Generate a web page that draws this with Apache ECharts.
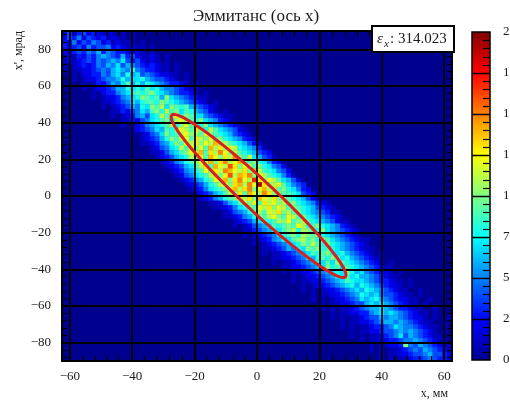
<!DOCTYPE html>
<html>
<head>
<meta charset="utf-8">
<script src="https://cdn.jsdelivr.net/npm/echarts@6/dist/echarts.min.js"></script>
<style>
  html, body { margin: 0; padding: 0; background: #fff; }
  #chart { width: 510px; height: 402px; }
</style>
</head>
<body>
<div id="chart"></div>
<script>
// Phase-space histogram: x (mm) vs x' (mrad)
const X_MIN = -62.5, X_MAX = 62.5;
const Y_MIN = -90, Y_MAX = 90;
const BIN_W = 1.5625;   // mm per x bin
const BIN_H = 2.5;      // mrad per x' bin
const N_XBINS = 80;

// First x-bin index of each x' row (rows run from x' = +90 down to -90)
const rowStart = [
  -9, -8, -7, -6, -5, -3, -2, -1, 0, 1, 2, 3, 4, 5, 6, 7, 8, 9, 10, 11, 12, 13, 14, 15,
  16, 17, 18, 19, 20, 21, 22, 23, 24, 25, 26, 27, 28, 30, 31, 32, 33, 34, 35, 36, 37, 38,
  39, 40, 41, 42, 43, 44, 45, 46, 47, 48, 49, 50, 51, 52, 53, 54, 55, 56, 57, 58, 59, 60,
  62, 63, 64, 65
];

// Bin contents along each row, one base-36 digit per bin (0..20)
const rowCounts = [
  "1011021232413423212101010",
  "0102121324352432312110100",
  "1011122325243542312111010",
  "0101213234253445232121101",
  "1012122343546354332121010",
  "0101213243565436342112101",
  "1012123435456574342121010",
  "0101232354657465432321101",
  "1011223454676585433211010",
  "0102233546758674543221101",
  "1012234556867786544321010",
  "0101324657968687654332101",
  "1012234668787978655432110",
  "0102335678989a87654332101",
  "1012235678a9896a765432110",
  "0112345768998a98765432101",
  "1012346587a9b7a9896543210",
  "0113245769a8b9a7986542101",
  "1012356478b9ac8a977543211",
  "0113245789a7bca98a7653210",
  "1012356789b8ac9b8a7654321",
  "0123457698acb9da8b9765421",
  "1012457a89bcab9ca98764321",
  "0123468a9bc9dbac9a8765321",
  "1123568a9cbdacbeab9876421",
  "0124578b9dac9ebdacb876531",
  "1124679acbe9dbfcab9876432",
  "1234678bad9ecadbfa9b76431",
  "1235689acbeadfbcea9a87532",
  "1234679bd9ecbgdacb9a87542",
  "1235689cadbfecbdaeb987542",
  "1245789bdacgbedfacb987531",
  "1235689cbeadfcbhdacb97642",
  "1234689bcadebfcjdabc97543",
  "1235789acebdfacebd9a87532",
  "1234679bad9ecbfdab9987432",
  "1235689acbdaecbdab9876421",
  "1124679bac9dbcab9a8765321",
  "1123578a9cbdacb9a98764321",
  "0124568ab9cbdab9a87654311",
  "1123568a9bca9cb9a87654321",
  "0123467989bac9ab987654211",
  "10124567989a9cb89a8765321",
  "0113456879ab8ba98a7654321",
  "1012345789a8ba9b876543210",
  "0112356879ab9a8a976543211",
  "1012345678a9b98a876543210",
  "0112346587a9a898765432110",
  "1011234567989a87865432101",
  "0112234576898a97865432110",
  "1011234568797a98765432101",
  "0112234567a89798765432110",
  "1011223456787a86754322101",
  "0101223456879786654321100",
  "1011223456798776543321101",
  "0101223456786876543221010",
  "1010122345676876543211001",
  "0101122345687675443211010",
  "1010122345767865432211001",
  "0101122344676765432110100",
  "1010112345667654332110010",
  "0101122335676765432110100",
  "1010112344656654322101001",
  "0101122345665654321100100",
  "1010112334576554321101000",
  "0101122344565654321010100",
  "1010112345746543211001000",
  "0101122334556543211010000",
  "01011223a5465432110100100",
  "1010112345465432110100000",
  "0101122344564432110100100",
  "1010112334543321101001000"
];

// Axis ticks
const xMajorTicks = [-60, -40, -20, 0, 20, 40, 60];
const xMinorTicks = [-60, -56, -52, -48, -44, -40, -36, -32, -28, -24, -20, -16, -12, -8, -4, 0,
                     4, 8, 12, 16, 20, 24, 28, 32, 36, 40, 44, 48, 52, 56, 60];
const yMajorTicks = [-80, -60, -40, -20, 0, 20, 40, 60, 80];
const yMinorTicks = [-88, -84, -80, -76, -72, -68, -64, -60, -56, -52, -48, -44, -40, -36, -32, -28,
                     -24, -20, -16, -12, -8, -4, 0, 4, 8, 12, 16, 20, 24, 28, 32, 36, 40, 44, 48,
                     52, 56, 60, 64, 68, 72, 76, 80, 84, 88];
const zMax = 20;
const zMajorTicks = [0, 2.5, 5, 7.5, 10, 12.5, 15, 17.5, 20];
const zMinorStep = 0.5;

// Colour palette, evenly spaced from 0 to zMax
const palette = ['#00008f', '#0000ff', '#0080ff', '#00ffff', '#80ff80',
                 '#ffff00', '#ff8000', '#ff0000', '#800000'];

// Emittance ellipse (Twiss parameters)
const emittance = 314.023;
const twissBeta = 2.5;
const twissAlpha = 3.84;
const beamCentre = [0.5, 0];

// Build histogram cells: [xLow, yLow, count]
const cells = [];
rowCounts.forEach((row, r) => {
  for (let k = 0; k < row.length; k++) {
    const ix = rowStart[r] + k;
    const n = parseInt(row[k], 36);
    if (ix < 0 || ix >= N_XBINS || !n) continue;
    cells.push([X_MIN + BIN_W * ix, Y_MAX - BIN_H * (r + 1), n]);
  }
});

const SERIF = '"Liberation Serif", "Times New Roman", serif';
const TXT = '#1a1a1a';
const minus = v => String(v).replace('-', '\u2212');

function frameAxis(dim, position, ticks, len, opts) {
  const isMajor = len > 6;
  return Object.assign({
    gridIndex: 0,
    type: 'value',
    min: dim === 'x' ? X_MIN : Y_MIN,
    max: dim === 'x' ? X_MAX : Y_MAX,
    position: position,
    z: 5,
    axisLine: { show: isMajor, onZero: false, lineStyle: { color: '#000', width: 2 } },
    axisTick: { show: true, inside: true, length: len, customValues: ticks,
                lineStyle: { color: '#000', width: isMajor ? 1.5 : 1.2 } },
    axisLabel: { show: false },
    splitLine: { show: false }
  }, opts || {});
}

const chart = echarts.init(document.getElementById('chart'), null, { renderer: 'canvas' });

chart.setOption({
  animation: false,
  backgroundColor: '#ffffff',
  grid: [
    { left: 62, right: 58, top: 31, bottom: 41, show: true, backgroundColor: palette[0],
      borderWidth: 0, outerBoundsMode: 'none', containLabel: false },
    { left: 472, width: 18, top: 32, height: 328, outerBoundsMode: 'none', containLabel: false }
  ],
  xAxis: [
    frameAxis('x', 'bottom', xMajorTicks, 10, {
      splitNumber: 6,
      axisLabel: { show: true, customValues: xMajorTicks, margin: 9, formatter: minus,
                   fontFamily: SERIF, fontSize: 13, color: TXT },
      splitLine: { show: true, lineStyle: { color: '#000', width: 1.8 } }
    }),
    frameAxis('x', 'bottom', xMinorTicks, 5),
    frameAxis('x', 'top', xMajorTicks, 10),
    frameAxis('x', 'top', xMinorTicks, 5),
    { gridIndex: 1, type: 'value', min: 0, max: 1, show: false }
  ],
  yAxis: [
    frameAxis('y', 'left', yMajorTicks, 10, {
      splitNumber: 9,
      axisLabel: { show: true, customValues: yMajorTicks, margin: 11, formatter: minus,
                   fontFamily: SERIF, fontSize: 13, color: TXT },
      splitLine: { show: true, lineStyle: { color: '#000', width: 1.8 } }
    }),
    frameAxis('y', 'left', yMinorTicks, 5),
    frameAxis('y', 'right', yMajorTicks, 10),
    frameAxis('y', 'right', yMinorTicks, 5),
    {
      gridIndex: 1, type: 'value', min: 0, max: zMax, interval: 2.5, position: 'right', z: 5,
      axisLine: { show: false },
      axisTick: { show: false },
      minorTick: { show: false },
      axisLabel: { show: true, margin: 13, fontFamily: SERIF, fontSize: 13, color: TXT },
      splitLine: { show: false }
    }
  ],
  visualMap: {
    type: 'continuous', show: false, seriesIndex: 0, dimension: 2,
    min: 0, max: zMax, inRange: { color: palette }
  },
  series: [
    {
      name: 'counts',
      type: 'custom',
      coordinateSystem: 'cartesian2d',
      xAxisIndex: 0, yAxisIndex: 0,
      clip: true,
      silent: true,
      z: 2,
      encode: { x: 0, y: 1 },
      data: cells,
      renderItem: function (params, api) {
        const x = api.value(0), y = api.value(1);
        const a = api.coord([x, y + BIN_H]);
        const b = api.coord([x + BIN_W, y]);
        return {
          type: 'rect',
          shape: { x: a[0], y: a[1], width: b[0] - a[0] + 0.4, height: b[1] - a[1] + 0.4 },
          style: { fill: api.visual('color') }
        };
      }
    },
    {
      name: 'ellipse',
      type: 'custom',
      coordinateSystem: 'cartesian2d',
      xAxisIndex: 0, yAxisIndex: 0,
      silent: true,
      z: 10,
      encode: { x: 3, y: 4 },
      data: [[emittance, twissBeta, twissAlpha, beamCentre[0], beamCentre[1]]],
      renderItem: function (params, api) {
        const eps = api.value(0), beta = api.value(1), alpha = api.value(2);
        const cx = api.value(3), cy = api.value(4);
        const pts = [];
        for (let k = 0; k <= 180; k++) {
          const t = 2 * Math.PI * k / 180;
          const x = cx + Math.sqrt(eps * beta) * Math.cos(t);
          const xp = cy - Math.sqrt(eps / beta) * (alpha * Math.cos(t) + Math.sin(t));
          pts.push(api.coord([x, xp]));
        }
        return {
          type: 'polygon',
          shape: { points: pts },
          style: { fill: 'none', stroke: '#d82020', lineWidth: 3 }
        };
      }
    },
    {
      // colour scale bar with its tick marks
      name: 'palette',
      type: 'custom',
      coordinateSystem: 'cartesian2d',
      xAxisIndex: 4, yAxisIndex: 4,
      silent: true,
      z: 2,
      encode: { x: 0, y: 1 },
      data: [[0, zMax]],
      renderItem: function (params, api) {
        const a = api.coord([0, api.value(1)]);
        const b = api.coord([1, 0]);
        const children = [{
          type: 'rect',
          shape: { x: a[0], y: a[1], width: b[0] - a[0], height: b[1] - a[1] },
          style: {
            fill: new echarts.graphic.LinearGradient(0, 1, 0, 0,
              palette.map((c, i) => ({ offset: i / (palette.length - 1), color: c }))),
            stroke: '#000',
            lineWidth: 1.5
          }
        }];
        const right = b[0];
        for (let v = zMinorStep; v < zMax; v += zMinorStep) {
          const major = zMajorTicks.some(t => Math.abs(t - v) < 1e-6);
          const y = Math.round(api.coord([0, v])[1]) + 0.5;
          children.push({
            type: 'line',
            shape: { x1: right - (major ? b[0] - a[0] : 7), y1: y, x2: right, y2: y },
            style: { stroke: '#000', lineWidth: major ? 1.5 : 1.2 }
          });
        }
        return { type: 'group', children: children };
      }
    }
  ],
  graphic: [
    {
      type: 'text', x: 256, y: 17, z: 20,
      style: { text: 'Эммитанс (ось x)', fontFamily: SERIF, fontSize: 17, fill: TXT,
               align: 'center', verticalAlign: 'middle' }
    },
    {
      type: 'rect', z: 20,
      shape: { x: 372, y: 26, width: 82, height: 26 },
      style: { fill: '#fff', stroke: '#000', lineWidth: 2 }
    },
    {
      type: 'text', x: 377, y: 39, z: 21,
      style: { text: 'ε', fontFamily: SERIF, fontStyle: 'italic', fontSize: 15, fill: TXT,
               align: 'left', verticalAlign: 'middle' }
    },
    {
      type: 'text', x: 384, y: 44, z: 21,
      style: { text: 'x', fontFamily: SERIF, fontStyle: 'italic', fontSize: 11, fill: TXT,
               align: 'left', verticalAlign: 'middle' }
    },
    {
      type: 'text', x: 390, y: 39, z: 21,
      style: { text: ': ' + emittance.toFixed(3), fontFamily: SERIF, fontSize: 15, fill: TXT,
               align: 'left', verticalAlign: 'middle' }
    },
    {
      type: 'text', x: 448, y: 394, z: 20,
      style: { text: 'x, мм', fontFamily: SERIF, fontSize: 12, fill: TXT,
               align: 'right', verticalAlign: 'middle' }
    },
    {
      type: 'text', x: 19, y: 31, z: 20, rotation: Math.PI / 2,
      style: { text: "x', мрад", fontFamily: SERIF, fontSize: 12, fill: TXT,
               align: 'right', verticalAlign: 'middle' }
    }
  ]
});
</script>
</body>
</html>
